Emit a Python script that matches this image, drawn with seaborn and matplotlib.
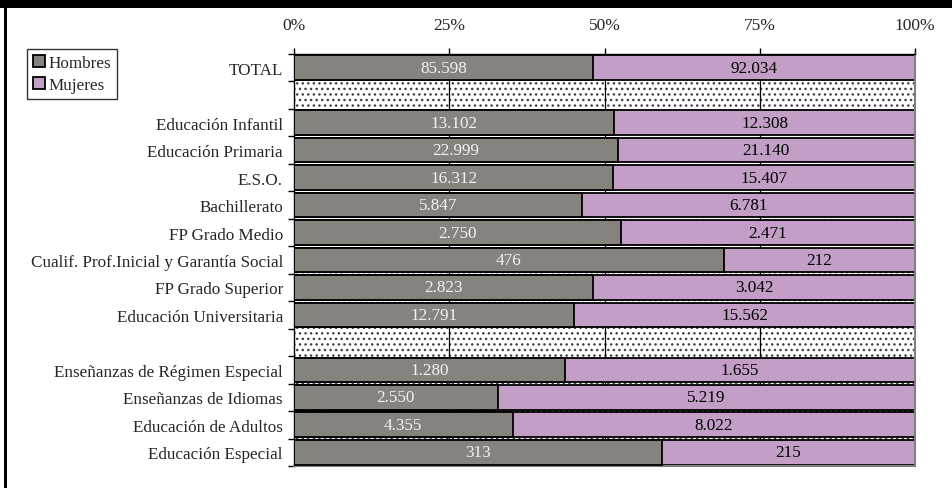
import numpy as np
import pandas as pd
import seaborn as sns
import matplotlib.pyplot as plt
from matplotlib.patches import Rectangle, Patch

# Row order, blank strings are the separator rows
categories = ['TOTAL', ' ',
              'Educación Infantil', 'Educación Primaria', 'E.S.O.', 'Bachillerato',
              'FP Grado Medio', 'Cualif. Prof.Inicial y Garantía Social',
              'FP Grado Superior', 'Educación Universitaria', '  ',
              'Enseñanzas de Régimen Especial', 'Enseñanzas de Idiomas',
              'Educación de Adultos', 'Educación Especial']
hombres = [85598, None, 13102, 22999, 16312, 5847, 2750, 476, 2823, 12791,
           None, 1280, 2550, 4355, 313]
mujeres = [92034, None, 12308, 21140, 15407, 6781, 2471, 212, 3042, 15562,
           None, 1655, 5219, 8022, 215]
x_ticks = [0, 25, 50, 75, 100]
x_ticklabels = ['0%', '25%', '50%', '75%', '100%']

GRAY = '#86837f'
PURPLE = '#c39fc8'
FS = 12.3


def fmt(v):
    return f'{int(v):,}'.replace(',', '.')


df = pd.DataFrame({'cat': categories, 'h': hombres, 'm': mujeres}).dropna()
df['h_pct'] = 100 * df['h'] / (df['h'] + df['m'])
df['total'] = 100.0

sns.set_style('white')
plt.rcParams['font.family'] = ['Liberation Serif', 'DejaVu Serif']

fig = plt.figure(figsize=(9.53, 4.89), dpi=100)
ax = fig.add_axes([294 / 953, 1 - 467 / 489, 621 / 953, 412 / 489])

# dotted background
ax.add_patch(Rectangle((0, 0), 1, 1, transform=ax.transAxes, facecolor='white',
                       edgecolor='#404040', lw=0, hatch='...', zorder=0))
for g in [25, 50, 75]:
    ax.axvline(g, color='black', lw=0.9, zorder=0.5)

sns.barplot(data=df, x='total', y='cat', order=categories, color=PURPLE,
            orient='h', width=0.9, edgecolor='black', linewidth=1.3,
            saturation=1, ax=ax, zorder=2)
sns.barplot(data=df, x='h_pct', y='cat', order=categories, color=GRAY,
            orient='h', width=0.9, edgecolor='black', linewidth=1.3,
            saturation=1, ax=ax, zorder=3)

for _, r in df.iterrows():
    i = categories.index(r['cat'])
    ax.text(r['h_pct'] / 2, i, fmt(r['h']), ha='center', va='center',
            color='#f2f2f2', fontsize=FS, zorder=4)
    ax.text(r['h_pct'] + (100 - r['h_pct']) / 2, i, fmt(r['m']), ha='center',
            va='center', color='black', fontsize=FS, zorder=4)

ax.set_xlim(0, 100)
ax.set_ylim(len(categories) - 0.5, -0.5)
ax.set_xlabel('')
ax.set_ylabel('')
ax.xaxis.tick_top()
ax.set_xticks(x_ticks)
ax.set_xticklabels(x_ticklabels, fontsize=12.5)
ax.tick_params(axis='x', direction='out', length=4, width=1, pad=11,
               color='black', top=True, bottom=False)
ax.set_yticks(range(len(categories)))
ax.set_yticklabels(categories, fontsize=FS)
ax.set_yticks(np.arange(-0.5, len(categories)), minor=True)
ax.tick_params(axis='y', which='major', length=0, pad=8)
ax.tick_params(axis='y', which='minor', direction='out', length=4, width=1,
               color='black', left=True)

for s in ['top', 'left']:
    ax.spines[s].set_color('black')
    ax.spines[s].set_linewidth(1)
for s in ['right', 'bottom']:
    ax.spines[s].set_color('#808080')
    ax.spines[s].set_linewidth(1.5)

handles = [Patch(facecolor=GRAY, edgecolor='black', lw=1.3, label='Hombres'),
           Patch(facecolor=PURPLE, edgecolor='black', lw=1.3, label='Mujeres')]
fig.legend(handles=handles, loc='upper left', bbox_to_anchor=(27 / 953, 1 - 50 / 489),
           frameon=True, fancybox=False, edgecolor='black', fontsize=FS,
           handlelength=0.7, handleheight=0.7, handletextpad=0.2,
           borderpad=0.35, labelspacing=0.35, borderaxespad=0)

# black frame on top and left of the picture
fig.patches.append(Rectangle((0, 1 - 9 / 489), 1, 9 / 489, transform=fig.transFigure,
                             facecolor='black', lw=0))
fig.patches.append(Rectangle((4 / 953, 0), 3 / 953, 1, transform=fig.transFigure,
                             facecolor='black', lw=0))

fig.savefig('out.png', dpi=100)
